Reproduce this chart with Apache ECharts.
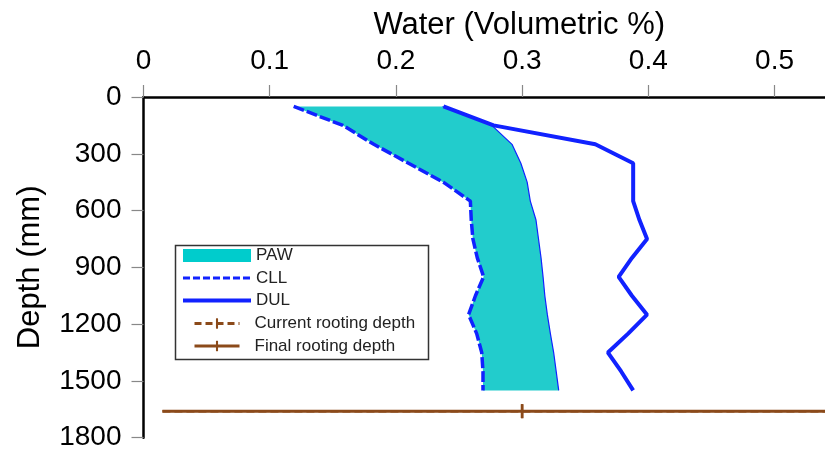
<!DOCTYPE html>
<html>
<head>
<meta charset="utf-8">
<script src="https://cdn.jsdelivr.net/npm/echarts@6/dist/echarts.min.js"></script>
<style>
html,body{margin:0;padding:0;background:#fff;}
#chart{width:825px;height:453px;}
</style>
</head>
<body>
<div id="chart"></div>
<script>
// ---- data ----
const depths   = [50,150,250,350,450,550,650,750,850,950,1050,1150,1250,1350,1450,1550];
const cll      = [0.119,0.158,0.1825,0.210,0.2375,0.259,0.2597,0.261,0.2645,0.2695,0.263,0.2576,0.264,0.268,0.269,0.269];
const dul      = [0.2377,0.2774,0.358,0.388,0.388,0.388,0.393,0.399,0.387,0.3765,0.387,0.399,0.384,0.368,0.3785,0.388];
const pawUpper = [0.237,0.276,0.292,0.299,0.304,0.3065,0.311,0.313,0.315,0.3166,0.318,0.320,0.3224,0.325,0.327,0.329];
const rootX    = [0.015, 0.3, 0.6];
const currentRootDepth = 1660;
const finalRootDepth   = 1660;
const xTicks = ['0','0.1','0.2','0.3','0.4','0.5'];
const yTicks = ['0','300','600','900','1200','1500','1800'];

const BLUE = '#1122FF', CYAN = '#22CCCC', BROWN = '#8B4A1A';
const FONT = 'Liberation Sans';
// thin vertical tick inside a 10x10 box (box kept so the legend square does not stretch it)
const TICK = 'path://M0,0M10,10M4,0L6,0L6,10L4,10Z';

const pair = (xs, ys) => xs.map((x, i) => [x, ys[i]]);
const rootData = (d) => rootX.map((x, i) => ({value: [x, d], symbol: i === 1 ? TICK : 'none'}));

const chart = echarts.init(document.getElementById('chart'));
chart.setOption({
  animation: false,
  textStyle: {fontFamily: FONT},
  grid: {left: 143.5, right: 0, top: 97, bottom: 15.3, containLabel: false},
  xAxis: {
    type: 'value', position: 'top', min: 0, max: 0.54, interval: 0.1,
    name: 'Water (Volumetric %)', nameLocation: 'middle', nameGap: 56,
    nameTextStyle: {fontSize: 31, color: '#000', fontFamily: FONT, padding: [0, 0, 0, 70]},
    axisLine: {show: true, lineStyle: {color: '#000', width: 2.5}},
    axisTick: {show: true, length: 12, lineStyle: {color: '#888', width: 1.2}},
    axisLabel: {fontSize: 28, color: '#000', margin: 22, showMaxLabel: false,
      formatter: (v) => { const i = Math.round(v * 10); return (Math.abs(v * 10 - i) < 1e-6 && xTicks[i] !== undefined) ? xTicks[i] : ''; }},
    splitLine: {show: false}
  },
  yAxis: {
    type: 'value', inverse: true, min: 0, max: 1800, interval: 300,
    name: 'Depth (mm)', nameLocation: 'middle', nameGap: 98,
    nameTextStyle: {fontSize: 31, color: '#000', fontFamily: FONT},
    axisLine: {show: true, lineStyle: {color: '#000', width: 2.5}},
    axisTick: {show: true, length: 12, lineStyle: {color: '#888', width: 1.2}},
    axisLabel: {fontSize: 28, color: '#000', margin: 22,
      formatter: (v) => yTicks[Math.round(v / 300)]},
    splitLine: {show: false}
  },
  legend: [
    {
      orient: 'vertical', left: 176, top: 242, itemWidth: 68, itemHeight: 13, itemGap: 5.5,
      textStyle: {fontSize: 17, color: '#222', fontFamily: FONT},
      data: [
        {name: 'PAW', icon: 'rect', itemStyle: {color: '#00CCCC'}},
        {name: 'CLL', itemStyle: {opacity: 0}, lineStyle: {width: 3, type: [7, 3]}},
        {name: 'DUL', itemStyle: {opacity: 0}, lineStyle: {width: 4}}
      ]
    },
    {
      orient: 'vertical', left: 188, top: 310, itemWidth: 45, itemHeight: 13, itemGap: 5.5,
      textStyle: {fontSize: 17, color: '#222', fontFamily: FONT, padding: [0, 0, 0, 10]},
      data: [
        {name: 'Current rooting depth', lineStyle: {width: 3, type: [7, 4]}},
        {name: 'Final rooting depth', lineStyle: {width: 3}}
      ]
    }
  ],
  graphic: [{
    type: 'rect', left: 173, top: 243, z: 100, silent: true,
    shape: {width: 253, height: 114},
    style: {fill: 'none', stroke: '#333', lineWidth: 1.5}
  }],
  series: [
    {
      name: 'PAW', type: 'custom', z: 1,
      itemStyle: {color: '#00CCCC'},
      data: [[cll[0], depths[0]]],
      encode: {x: 0, y: 1},
      renderItem: (params, api) => {
        const pts = [];
        for (let i = 0; i < depths.length; i++) pts.push(api.coord([cll[i], depths[i]]));
        for (let i = depths.length - 1; i >= 0; i--) pts.push(api.coord([pawUpper[i], depths[i]]));
        return {type: 'polygon', shape: {points: pts}, style: {fill: CYAN, stroke: null}};
      }
    },
    {
      name: 'PAW upper', type: 'line', z: 2, symbol: 'none', silent: true,
      data: pair(pawUpper, depths),
      lineStyle: {color: BLUE, width: 1.2}
    },
    {
      name: 'CLL', type: 'line', z: 3, symbol: 'none',
      data: pair(cll, depths),
      itemStyle: {color: BLUE},
      lineStyle: {color: BLUE, width: 3.5, type: [11, 3]}
    },
    {
      name: 'DUL', type: 'line', z: 3, symbol: 'none',
      data: pair(dul, depths),
      itemStyle: {color: BLUE},
      lineStyle: {color: BLUE, width: 4}
    },
    {
      name: 'Current rooting depth', type: 'line', z: 4, symbol: TICK, symbolSize: [12.5, 14],
      data: rootData(currentRootDepth),
      itemStyle: {color: BROWN},
      lineStyle: {color: BROWN, width: 2.4, type: [8, 4]}
    },
    {
      name: 'Final rooting depth', type: 'line', z: 5, symbol: TICK, symbolSize: [12.5, 14],
      data: rootData(finalRootDepth),
      itemStyle: {color: BROWN},
      lineStyle: {color: BROWN, width: 3}
    }
  ]
});
</script>
</body>
</html>
